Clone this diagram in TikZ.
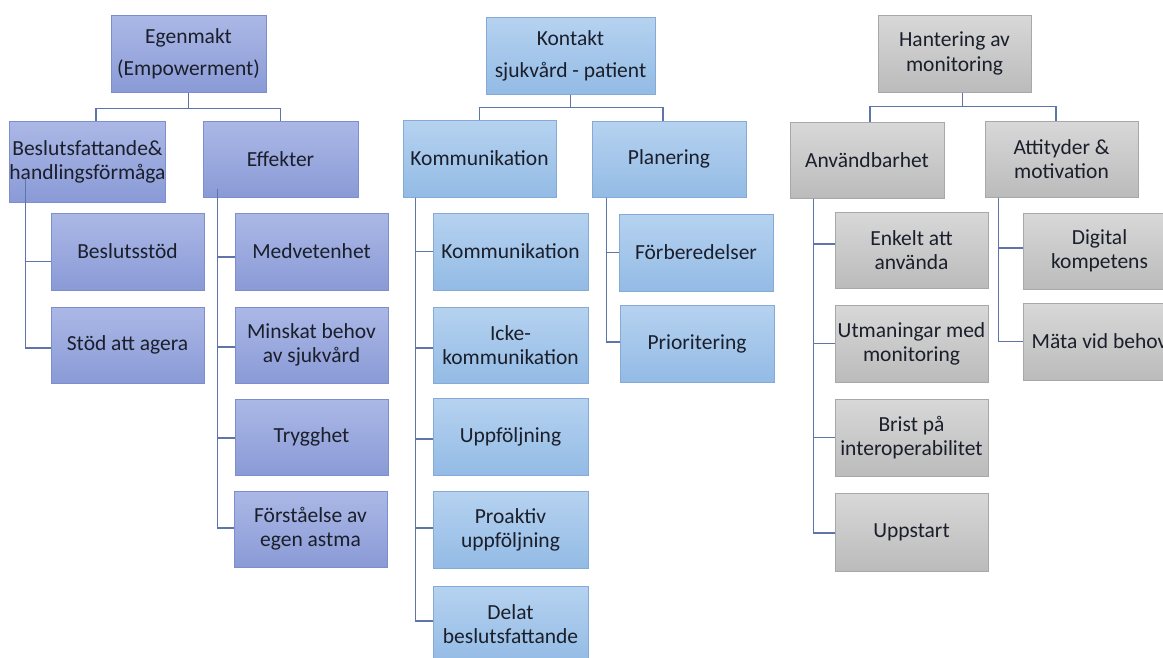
\documentclass[tikz,border=0pt]{standalone}
\usepackage{fontspec}
\setmainfont{Carlito}
\definecolor{txt}{HTML}{1B1F2B}
\definecolor{lnc}{HTML}{5F74A8}
\definecolor{pT}{HTML}{ABB8E6}
\definecolor{pB}{HTML}{8A9AD6}
\definecolor{pD}{HTML}{7D8ECF}
\definecolor{bT}{HTML}{B6D2F0}
\definecolor{bB}{HTML}{93BBE5}
\definecolor{bD}{HTML}{86AAD6}
\definecolor{gT}{HTML}{D8D8D8}
\definecolor{gB}{HTML}{BBBBBB}
\definecolor{gD}{HTML}{A8A8A8}
\tikzset{
  box/.style={rectangle, inner sep=0pt, align=center, text=txt, line width=1pt,
    font=\fontsize{21.5}{24}\selectfont},
  pbox/.style={box, draw=pD, top color=pT, bottom color=pB},
  bbox/.style={box, draw=bD, top color=bT, bottom color=bB},
  gbox/.style={box, draw=gD, top color=gT, bottom color=gB},
  sz/.style 2 args={minimum width=#1pt, minimum height=#2pt},
  wide/.style={font=\fontsize{21.5}{32}\selectfont},
  conn/.style={draw=lnc, line width=1.3pt}
}
\begin{document}
\begin{tikzpicture}[x=1pt,y=-1pt]
\useasboundingbox (0,0) rectangle (1163,657);
\clip (0,0) rectangle (1163,657);
\fill[white] (0,0) rectangle (1163,657);
% Column 1
\node[pbox, sz={155}{77}, wide] (egen) at (188.5,53.5) {Egenmakt\\(Empowerment)};
\node[pbox, sz={153}{81}] (besl) at (87.5,161.5) {Beslutsfattande\&\\handlingsförmåga};
\node[pbox, sz={155}{76}] (eff) at (280.5,159) {Effekter};
\node[pbox, sz={153}{77}] (bstod) at (127.5,251.5) {Beslutsstöd};
\node[pbox, sz={153}{76}] (stod) at (127.5,345) {Stöd att agera};
\node[pbox, sz={153}{77}] (medv) at (311.5,251.5) {Medvetenhet};
\node[pbox, sz={153}{76}] (mins) at (311.5,345) {Minskat behov\\av sjukvård};
\node[pbox, sz={153}{76}] (tryg) at (311.5,437) {Trygghet};
\node[pbox, sz={153}{76}] (forst) at (310.5,529) {Förståelse av\\egen astma};
% Column 2
\node[bbox, sz={169}{77}, wide] (kont) at (570.5,55.5) {Kontakt\\sjukvård - patient};
\node[bbox, sz={153}{77}] (komm) at (479.5,158.5) {Kommunikation};
\node[bbox, sz={154}{76}] (plan) at (669,159) {Planering};
\node[bbox, sz={155}{77}] (k1) at (510.5,251.5) {Kommunikation};
\node[bbox, sz={155}{76}] (k2) at (510.5,345) {Icke-\\kommunikation};
\node[bbox, sz={155}{77}] (k3) at (510.5,436.5) {Uppföljning};
\node[bbox, sz={155}{77}] (k4) at (510.5,529.5) {Proaktiv\\uppföljning};
\node[bbox, sz={155}{77}] (k5) at (510.5,624.5) {Delat\\beslutsfattande};
\node[bbox, sz={154}{77}] (forb) at (696,252.5) {Förberedelser};
\node[bbox, sz={154}{77}] (prio) at (697,343.5) {Prioritering};
% Column 3
\node[gbox, sz={153}{77}, font=\fontsize{21.5}{25}\selectfont] (hant) at (954.5,53.5) {Hantering av\\monitoring};
\node[gbox, sz={154}{76}] (anv) at (867,160) {Användbarhet};
\node[gbox, sz={153}{76}] (att) at (1061.5,159) {Attityder \&\\motivation};
\node[gbox, sz={153}{76}] (a1) at (911.5,250) {Enkelt att\\använda};
\node[gbox, sz={153}{77}] (a2) at (911.5,343.5) {Utmaningar med\\monitoring};
\node[gbox, sz={153}{77}] (a3) at (911.5,437.5) {Brist på\\interoperabilitet};
\node[gbox, sz={153}{78}] (a4) at (911.5,532) {Uppstart};
\node[gbox, sz={153}{76}] (dig) at (1099.5,251) {Digital\\kompetens};
\node[gbox, sz={153}{77}] (mata) at (1099.5,341.5) {Mäta vid behov};
% Connectors column 1
\draw[conn] (egen.south) -- ++(0,16) -| ([xshift=8.5pt]besl.north);
\draw[conn] (egen.south) -- ++(0,16) -| (eff.north);
\draw[conn] ([xshift=16.7pt,yshift=24pt]besl.south west) |- ([yshift=-10pt]bstod.west);
\draw[conn] ([xshift=16.7pt,yshift=24pt]besl.south west) |- ([yshift=-3pt]stod.west);
\draw[conn] ([xshift=15pt,yshift=9pt]eff.south west) |- ([yshift=-5.5pt]medv.west);
\draw[conn] ([xshift=15pt,yshift=9pt]eff.south west) |- ([yshift=-2pt]mins.west);
\draw[conn] ([xshift=15pt,yshift=9pt]eff.south west) |- ([yshift=-1pt]tryg.west);
\draw[conn] ([xshift=15pt,yshift=9pt]eff.south west) |- ([yshift=1pt]forst.west);
% Connectors column 2
\draw[conn] (kont.south) -- ++(0,13) -| (komm.north);
\draw[conn] (kont.south) -- ++(0,13) -| ([xshift=-6pt]plan.north);
\draw[conn] ([xshift=13pt]komm.south west) |- (k1.west);
\draw[conn] ([xshift=13pt]komm.south west) |- ([yshift=-3pt]k2.west);
\draw[conn] ([xshift=13pt]komm.south west) |- ([yshift=-2.5pt]k3.west);
\draw[conn] ([xshift=13pt]komm.south west) |- ([yshift=1.5pt]k4.west);
\draw[conn] ([xshift=13pt]komm.south west) |- ([yshift=3.5pt]k5.west);
\draw[conn] ([xshift=15pt]plan.south west) |- (forb.west);
\draw[conn] ([xshift=15pt]plan.south west) |- ([yshift=1.5pt]prio.west);
% Connectors column 3
\draw[conn] ([xshift=8pt]hant.south) -- ++(0,14) -| ([xshift=3pt]anv.north);
\draw[conn] ([xshift=8pt]hant.south) -- ++(0,14) -| ([xshift=-5.5pt]att.north);
\draw[conn] ([xshift=24pt]anv.south west) |- ([yshift=6pt]a1.west);
\draw[conn] ([xshift=24pt]anv.south west) |- (a2.west);
\draw[conn] ([xshift=24pt]anv.south west) |- (a3.west);
\draw[conn] ([xshift=24pt]anv.south west) |- ([yshift=-1pt]a4.west);
\draw[conn] ([xshift=14pt]att.south west) |- ([yshift=3pt]dig.west);
\draw[conn] ([xshift=14pt]att.south west) |- (mata.west);
\end{tikzpicture}
\end{document}
